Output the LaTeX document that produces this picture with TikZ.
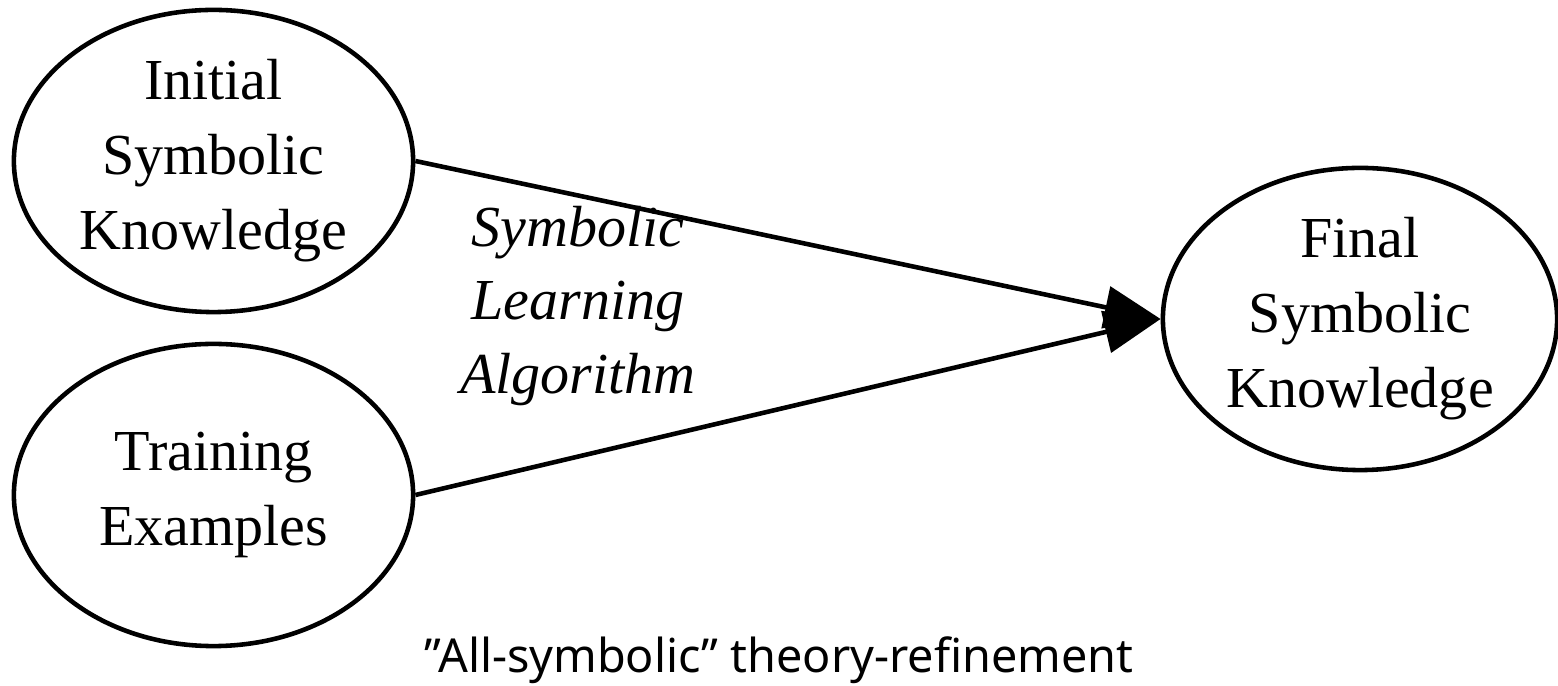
\documentclass[tikz,border=0pt]{standalone}
\usepackage{fontspec}
\setmainfont{Liberation Serif}
\newfontfamily\capfont{Noto Sans}
\usetikzlibrary{arrows.meta,shapes.geometric}
\tikzset{
  know/.style={
    draw=black, ellipse, line width=1.3pt, align=center,
    minimum width=3.99cm, minimum height=3.02cm, inner sep=0pt,
    font=\fontsize{16.5}{21.3}\selectfont
  },
  arr/.style={-{Triangle[length=5.6mm,width=4.2mm]}, draw=black, line width=1.3pt},
  algo/.style={font=\fontsize{16.5}{21}\selectfont\itshape, align=center},
  captxt/.style={font=\capfont\fontsize{13.3}{16}\selectfont, anchor=base}
}
\begin{document}
\begin{tikzpicture}[x=0.01cm,y=-0.01cm]
  \useasboundingbox (0,0) rectangle (1558,686);

  % Nodes
  \node[know] (init) at (213.5,161) {Initial\\Symbolic\\Knowledge};
  \node[know] (train) at (213.5,495) {Training\\Examples};
  \node[know, minimum width=3.94cm] (final) at (1360,319) {Final\\Symbolic\\Knowledge};

  % Edges
  \draw[arr] (init.east) -- (final.west);
  \draw[arr] (train.east) -- (final.west);

  \node[algo] (alg) at (578,306) {Symbolic\\Learning\\Algorithm};
  \node[captxt] (title) at (779,673) {”All-symbolic” theory-refinement};
\end{tikzpicture}
\end{document}
